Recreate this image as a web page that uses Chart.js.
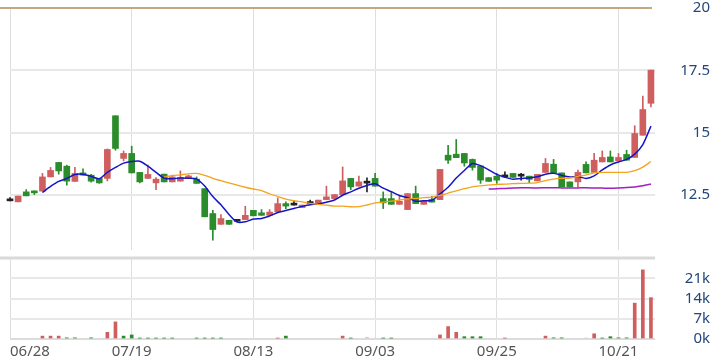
<!DOCTYPE html>
<html>
<head>
<meta charset="utf-8">
<script src="https://cdn.jsdelivr.net/npm/chart.js@4.4.1/dist/chart.umd.min.js"></script>
<style>
  html, body { margin: 0; padding: 0; background: #fff; }
  #wrap { position: relative; width: 710px; height: 364px; }
  #priceChart { position: absolute; left: 0; top: 0; }
  #volChart { position: absolute; left: 0; top: 252px; }
</style>
</head>
<body>
<div id="wrap">
  <canvas id="priceChart" width="710" height="252"></canvas>
  <canvas id="volChart" width="710" height="112"></canvas>
</div>
<script>
// daily candles, oldest first
const opens  = [12.27,12.23,12.63,12.67,12.66,13.23,13.81,13.66,13.05,13.39,
                13.30,13.17,13.17,15.68,13.97,14.17,13.41,13.17,12.99,13.34,
                13.03,13.06,13.17,13.14,12.76,11.76,11.33,11.49,11.45,11.52,
                11.89,11.79,11.69,11.83,12.16,12.10,12.00,12.16,12.16,12.32,
                12.36,12.52,13.17,12.86,12.98,13.17,12.36,12.36,12.13,11.92,
                12.56,12.13,12.32,12.32,14.10,14.14,14.17,13.93,13.67,13.20,
                13.26,13.23,13.37,13.26,13.26,13.07,13.41,13.74,13.39,13.03,
                13.03,13.73,13.41,13.83,14.03,13.87,14.13,14.01,14.90,16.18];
const highs  = [12.40,12.46,12.72,12.67,13.37,13.61,13.81,13.70,13.61,13.55,
                13.33,13.17,14.35,15.68,14.27,14.46,13.41,13.70,13.20,13.34,
                13.30,13.47,13.30,13.23,12.76,11.89,11.72,11.49,11.52,12.05,
                11.89,11.92,11.92,12.39,12.23,12.27,12.10,12.30,12.30,12.86,
                12.52,13.63,13.17,13.26,13.19,13.37,12.63,12.63,12.46,12.56,
                12.86,12.27,12.45,13.53,14.50,14.73,14.17,13.95,13.67,13.20,
                13.37,13.43,13.37,13.37,13.26,13.33,13.97,13.93,13.39,13.03,
                13.50,13.83,14.17,14.27,14.27,14.17,14.30,15.28,16.47,17.51];
const lows   = [12.27,12.23,12.47,12.52,12.66,13.23,13.34,12.90,13.05,13.30,
                13.02,12.97,13.07,14.30,13.87,13.39,12.99,13.17,12.72,13.03,
                13.03,13.06,13.17,12.97,11.63,10.69,11.33,11.33,11.45,11.52,
                11.67,11.69,11.69,11.83,11.96,12.10,12.00,12.16,12.16,12.32,
                12.36,12.52,12.72,12.86,12.63,12.86,11.96,12.13,12.13,11.92,
                12.16,12.13,12.22,12.32,13.77,14.00,13.66,13.50,12.97,13.05,
                12.97,13.23,13.21,13.10,13.00,13.07,13.41,13.39,12.83,12.83,
                12.83,13.39,13.41,13.83,13.83,13.87,13.90,14.01,14.90,16.04];
const closes = [12.27,12.46,12.47,12.59,13.23,13.49,13.47,13.06,13.37,13.30,
                13.06,12.99,14.33,14.37,14.17,13.39,13.03,13.33,13.14,13.03,
                13.23,13.21,13.27,12.97,11.63,11.12,11.56,11.33,11.45,11.69,
                11.67,11.69,11.82,12.16,12.06,12.10,12.10,12.16,12.30,12.43,
                12.52,13.07,12.83,13.03,12.98,12.86,12.19,12.13,12.25,12.56,
                12.16,12.27,12.22,13.53,13.90,14.00,13.79,13.61,13.10,13.05,
                13.10,13.23,13.21,13.26,13.13,13.33,13.77,13.39,12.83,12.83,
                13.41,13.39,13.90,14.01,13.83,14.01,13.90,14.97,15.93,17.51];
// volume in thousands, 0 = no trade
const volumes = [0,0,0,0,1.0,1.0,1.0,0.4,0.4,0,
                 0.4,0,2.3,5.9,1.0,1.4,0.3,0.3,0.3,0.3,
                 0.3,0,0,0.3,0.3,0.3,0.3,0,0,0,
                 0,0,0,0.3,1.0,0,0,0,0,0,
                 0,1.0,0.3,0,0.6,0,0.3,0.3,0,0,
                 0,0,0,1.4,4.3,2.3,0.8,0.8,0.8,0,
                 0,0.3,0,0,0,0,1.0,0.4,0.4,0,
                 0,0.3,1.8,0.3,0.8,0.4,0.4,12.4,23.9,14.3];
// u = up, d = down, n = unchanged
const volDir = ("----uuudd-" + "d-uudddddd" + "d--dddd---" + "---ud-----" +
                "-ud-n-dd--" + "---uuuddd-" + "-u----udd-" + "-nudddduuu").split("");

const tickIdx = [0, 15, 30, 45, 60, 75];
const tickLabels = ["06/28", "07/19", "08/13", "09/03", "09/25", "10/21"];
const priceTicks = [12.5, 15, 17.5, 20];
const volTicks = [0, 7, 14, 21, 28];

const UP = "#cf5f5f";
const DOWN = "#2a8c2a";
const DOJI = "#222222";
const FLAT = "#cfcfcf";
const FONT = "Noto Sans";

function movingAverage(values, n) {
  return values.map((_, i) => {
    if (i < n - 1) return null;
    let s = 0;
    for (let k = i - n + 1; k <= i; k++) s += values[k];
    return s / n;
  });
}

function candleColor(i) {
  if (closes[i] > opens[i]) return UP;
  if (closes[i] < opens[i]) return DOWN;
  return DOJI;
}

const ma5 = movingAverage(closes, 5);
const ma20 = movingAverage(closes, 20);
const ma60 = movingAverage(closes, 60);

function xAxis() {
  return {
    type: "linear",
    min: 0,
    max: 79.5,
    offset: false,
    afterBuildTicks: s => { s.ticks = tickIdx.map(v => ({ value: v })); },
    afterFit: s => { s.height = 0; s.paddingLeft = 0; s.paddingRight = 0; },
    ticks: { display: false },
    grid: { color: "#dedede", lineWidth: 1, drawTicks: false, offset: false },
    border: { display: false }
  };
}

function fixAxis(scale) {
  scale.width = 55;
  scale.paddingTop = 0;
  scale.paddingBottom = 0;
}

// brown line at the top of the price panel
const priceFrame = {
  id: "priceFrame",
  beforeDatasetsDraw(chart) {
    const { ctx, chartArea, scales } = chart;
    const y = scales.y.getPixelForValue(priceTicks[priceTicks.length - 1]);
    ctx.save();
    ctx.strokeStyle = "#c4a783";
    ctx.lineWidth = 2;
    ctx.beginPath();
    ctx.moveTo(0, y);
    ctx.lineTo(chartArea.right - 3, y);
    ctx.stroke();
    ctx.restore();
  }
};

// top border of the volume panel + date labels
const volFrame = {
  id: "volFrame",
  beforeDatasetsDraw(chart) {
    const { ctx, chartArea, scales } = chart;
    const y = scales.y.getPixelForValue(volTicks[volTicks.length - 1]);
    ctx.save();
    ctx.strokeStyle = "#d9d9d9";
    ctx.lineWidth = 3;
    ctx.beginPath();
    ctx.moveTo(0, y);
    ctx.lineTo(chartArea.right, y);
    ctx.stroke();
    ctx.restore();
  },
  afterDraw(chart) {
    const { ctx, chartArea, scales } = chart;
    ctx.save();
    ctx.font = "15px '" + FONT + "'";
    ctx.fillStyle = "#555555";
    ctx.textBaseline = "middle";
    tickIdx.forEach((v, k) => {
      ctx.textAlign = k === 0 ? "left" : "center";
      ctx.fillText(tickLabels[k], scales.x.getPixelForValue(v), chartArea.bottom + 12.5);
    });
    ctx.restore();
  }
};

const maLine = (data, color, width) => ({
  type: "line",
  data: data.map((v, i) => ({ x: i, y: v })),
  borderColor: color,
  borderWidth: width,
  pointRadius: 0,
  tension: 0.25,
  order: 0
});

new Chart(document.getElementById("priceChart"), {
  type: "bar",
  data: {
    datasets: [
      maLine(ma60, "#a020c0", 1.5),
      maLine(ma20, "#f5a31c", 1.3),
      maLine(ma5, "#1515c8", 1.5),
      {
        // wicks
        data: highs.map((h, i) => ({ x: i, y: [lows[i], h] })),
        backgroundColor: highs.map((_, i) => candleColor(i)),
        barThickness: 1,
        grouped: false,
        clip: false,
        order: 2
      },
      {
        // bodies
        data: opens.map((o, i) => ({ x: i, y: [o, closes[i]] })),
        backgroundColor: opens.map((_, i) => candleColor(i)),
        barThickness: 6,
        minBarLength: 2,
        grouped: false,
        clip: false,
        order: 1
      }
    ]
  },
  options: {
    responsive: false,
    devicePixelRatio: 1,
    animation: false,
    layout: { padding: { top: 8, bottom: 2, left: 10, right: 0 } },
    plugins: { legend: { display: false }, tooltip: { enabled: false } },
    scales: {
      x: xAxis(),
      y: {
        position: "right",
        min: 10.3,
        max: 20,
        afterBuildTicks: s => { s.ticks = priceTicks.map(v => ({ value: v })); },
        afterFit: fixAxis,
        ticks: {
          color: "#24467a",
          font: { family: FONT, size: 15 },
          padding: 17,
          crossAlign: "far",
          autoSkip: false,
          callback: v => String(v)
        },
        grid: {
          color: c => (c.tick && c.tick.value === 20 ? "rgba(0,0,0,0)" : "#e8e8e8"),
          lineWidth: 2,
          drawTicks: false
        },
        border: { display: false }
      }
    }
  },
  plugins: [priceFrame]
});

new Chart(document.getElementById("volChart"), {
  type: "bar",
  data: {
    datasets: [
      {
        data: volumes.map((v, i) => ({ x: i, y: v > 0 ? v : null })),
        backgroundColor: volDir.map(d => (d === "u" ? UP : d === "d" ? DOWN : FLAT)),
        barThickness: 3,
        grouped: false,
        clip: false
      }
    ]
  },
  options: {
    responsive: false,
    devicePixelRatio: 1,
    animation: false,
    layout: { padding: { top: 6, bottom: 25, left: 10, right: 0 } },
    plugins: { legend: { display: false }, tooltip: { enabled: false } },
    scales: {
      x: xAxis(),
      y: {
        position: "right",
        min: 0,
        max: 28,
        afterBuildTicks: s => { s.ticks = volTicks.map(v => ({ value: v })); },
        afterFit: fixAxis,
        ticks: {
          color: "#24467a",
          font: { family: FONT, size: 15 },
          padding: 22,
          crossAlign: "far",
          autoSkip: false,
          callback: v => (v === 28 ? "" : v + "k")
        },
        grid: {
          color: c => {
            if (!c.tick) return "#e8e8e8";
            if (c.tick.value === 28) return "rgba(0,0,0,0)";
            if (c.tick.value === 0) return "#dcdcdc";
            return "#e8e8e8";
          },
          lineWidth: 2,
          drawTicks: false
        },
        border: { display: false }
      }
    }
  },
  plugins: [volFrame]
});
</script>
</body>
</html>
